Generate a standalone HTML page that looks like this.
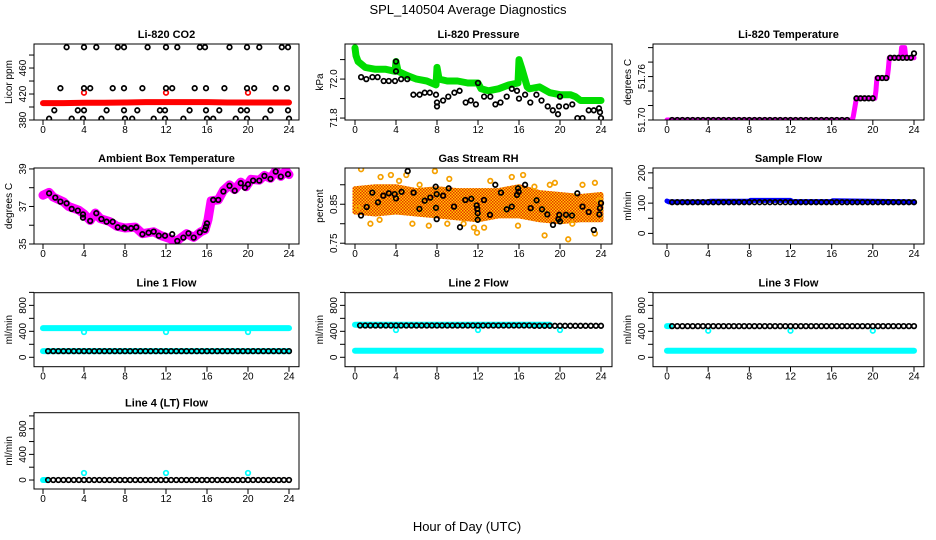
<!DOCTYPE html>
<html><head><meta charset="utf-8"><title>SPL_140504 Average Diagnostics</title>
<style>
html,body{margin:0;padding:0;background:#fff;}
svg{display:block;font-family:"Liberation Sans","DejaVu Sans",sans-serif;}
</style></head>
<body>
<svg id="chart" width="936" height="540" viewBox="0 0 936 540" xmlns="http://www.w3.org/2000/svg">
<defs>
<pattern id="rhpat" width="3" height="3" patternUnits="userSpaceOnUse">
<rect width="3" height="3" fill="#ffcc00"/><rect x="0" y="0" width="1.5" height="1.5" fill="#e83000"/><rect x="1.5" y="1.5" width="1.5" height="1.5" fill="#e83000"/>
</pattern>
</defs>
<rect width="936" height="540" fill="#fff"/>
<text x="468" y="14" text-anchor="middle" font-size="13">SPL_140504  Average Diagnostics</text>
<text x="467" y="531" text-anchor="middle" font-size="13">Hour of Day (UTC)</text>
</svg>
<script>
// ---------- DATA ----------
const xTicks = [0,4,8,12,16,20,24];

// CO2
const co2RedT = [0,2,4,6,8,10,12,14,16,18,20,22,24];
const co2RedV = [406,406,406.5,406.5,407,407.5,407.5,407.5,407.5,407,407,407,407];
const co2RedOutT = [4,12,20];
const co2RedOutV = [422,422,422];
const co2BlackT = [2.3,4.0,5.2,7.3,7.9,10.2,12.0,13.1,15.3,15.8,18.2,19.9,21.1,23.3,23.9,
  1.7,4.0,4.6,6.8,7.9,9.7,12.0,12.6,14.8,15.9,17.7,19.9,20.6,22.7,23.8,
  1.1,3.4,4.0,6.2,7.9,9.2,11.4,11.9,14.3,15.9,17.2,19.3,19.9,22.2,23.9,
  0.6,2.8,3.9,5.7,8.0,8.7,10.8,11.9,13.7,16.0,16.6,18.8,19.9,21.7,24.0];
const co2BlackV = [492,492,492,492,492,492,492,492,492,492,492,492,492,492,492,
  429,429,429,429,429,429,429,429,429,429,429,429,429,429,429,
  395,395,395,395,395,395,395,395,395,395,395,395,395,395,395,
  382,382,382,382,382,382,382,382,382,382,382,382,382,382,382];

// Pressure
const presGreenT = [0,0.1,0.3,1,2,3,3.9,4,4.2,5,6,7,7.9,8,8.2,9,10,11,12,12.3,13,14,15,15.9,16,16.3,16.8,17,18,19,20,21,21.5,22,23,24];
const presGreenV = [72.16,72.12,72.09,72.06,72.05,72.05,72.04,72.09,72.04,72.02,72.0,71.99,71.97,72.06,72.0,71.99,71.99,71.98,71.98,71.95,71.94,71.95,71.97,71.98,72.1,72.05,71.96,71.95,71.96,71.93,71.92,71.92,71.91,71.89,71.89,71.89];
const presBlackT = [0.6,1.1,1.7,2.2,2.8,3.3,3.9,4.0,4.0,4.5,5.1,5.7,6.3,6.8,7.3,7.9,8.0,8.0,8.6,9.1,9.7,10.2,10.8,11.3,11.8,12.0,12.6,13.2,13.7,14.2,14.8,15.3,15.8,16.0,16.6,17.1,17.7,18.2,18.8,19.3,19.8,19.9,20.0,20.6,21.2,21.7,22.2,22.8,23.3,23.8,23.9,24.0];
const presBlackV = [72.01,72.0,72.01,72.01,71.99,71.99,71.99,72.09,72.04,72.0,72.0,71.92,71.92,71.93,71.93,71.92,71.88,71.86,71.89,71.91,71.93,71.94,71.88,71.89,71.87,71.98,71.91,71.91,71.87,71.88,71.91,71.95,71.94,71.9,71.92,71.88,71.92,71.89,71.86,71.84,71.82,71.86,71.91,71.86,71.87,71.8,71.8,71.84,71.84,71.85,71.83,71.8];

// Li-820 temperature
const tempMagT = [0,18,18.1,18.4,20.2,20.3,20.4,21.4,21.5,21.6,22.7,22.8,23.1,23.2,24];
const tempMagV = [51.70,51.70,51.705,51.73,51.73,51.74,51.758,51.758,51.77,51.786,51.786,51.80,51.80,51.786,51.786];
const tempBlackT = [0.5,1,1.5,2,2.5,3,3.5,4,4.5,5,5.5,6,6.5,7,7.5,8,8.5,9,9.5,10,10.5,11,11.5,12,12.5,13,13.5,14,14.5,15,15.5,16,16.5,17,17.5,18.4,18.8,19.2,19.6,20,20.5,20.9,21.3,21.7,22.1,22.5,22.9,23.3,23.7,24];
const tempBlackV = [51.7,51.7,51.7,51.7,51.7,51.7,51.7,51.7,51.7,51.7,51.7,51.7,51.7,51.7,51.7,51.7,51.7,51.7,51.7,51.7,51.7,51.7,51.7,51.7,51.7,51.7,51.7,51.7,51.7,51.7,51.7,51.7,51.7,51.7,51.7,51.73,51.73,51.73,51.73,51.73,51.758,51.758,51.758,51.786,51.786,51.786,51.786,51.786,51.786,51.792];

// Ambient box temperature
const ambMagT = [0,0.6,1,2,2.5,3.5,4,4.6,5.1,5.6,6.5,7.2,8,9,9.7,10.8,11.5,12.3,13,14,14.7,15.4,15.8,16.1,16.4,17.1,17.6,18.2,18.7,19.3,19.8,20.3,21.1,21.6,22.2,22.7,23.2,23.7,24];
const ambMagV = [37.6,37.75,37.5,37.25,37.0,36.8,36.6,36.25,36.65,36.35,36.2,35.95,35.85,35.9,35.55,35.65,35.45,35.3,35.15,35.55,35.35,35.65,35.75,36.3,37.3,37.35,37.85,38.15,37.9,38.3,38.05,38.45,38.4,38.65,38.5,38.9,38.6,38.9,38.7];
const ambBlackT = [0.6,1.2,1.7,2.3,2.8,3.4,3.9,3.9,4.6,5.2,5.7,6.2,6.8,7.3,7.9,8.0,8.6,9.1,9.7,10.3,10.8,11.3,11.9,12.6,13.1,13.7,14.2,14.7,15.3,15.8,15.9,16.0,16.6,17.1,17.6,18.2,18.7,19.3,19.7,20.0,20.5,21.1,21.6,22.2,22.7,23.2,23.9];
const ambBlackV = [37.7,37.47,37.26,37.17,36.87,36.78,36.58,36.4,36.23,36.64,36.33,36.19,36.19,35.89,35.87,35.84,35.84,35.89,35.52,35.6,35.66,35.44,35.44,35.52,35.16,35.34,35.57,35.34,35.62,35.75,35.92,36.1,37.35,37.35,37.8,38.1,37.84,38.24,38.0,38.18,38.38,38.38,38.63,38.47,38.86,38.59,38.72];

// Gas stream RH
const rhBandT = [0,2,4,6,8,10,12,14,16,18,20,22,24];
const rhBandHi = [0.89,0.895,0.895,0.885,0.89,0.885,0.885,0.885,0.895,0.88,0.875,0.87,0.875];
const rhBandLo = [0.83,0.825,0.83,0.825,0.82,0.815,0.81,0.82,0.82,0.81,0.805,0.81,0.81];
const rhOrangeT = [0.6,2.5,3.5,5,7.8,9.2,15.3,16.4,1.5,2.4,5.6,7.2,9,10.6,11.6,11.9,15.9,18.5,19.5,20.8,23.4,23.4,22.2,13.2,17.5,19.0,21.2,6.3,4.3,12.6,0.3,23.8];
const rhOrangeV = [0.94,0.92,0.925,0.925,0.935,0.915,0.92,0.925,0.8,0.81,0.8,0.795,0.8,0.8,0.79,0.777,0.795,0.77,0.905,0.76,0.775,0.905,0.9,0.91,0.895,0.9,0.8,0.9,0.91,0.79,0.84,0.86];
const rhBlackT = [0.59,1.14,1.69,2.24,2.76,3.3,3.87,4.0,4.55,5.14,5.72,6.28,6.8,7.35,7.87,7.9,7.97,7.97,8.6,9.14,9.66,10.24,10.76,11.35,11.87,11.93,11.97,11.97,12.59,13.17,13.69,14.24,14.8,15.3,15.8,15.9,15.97,16.6,17.14,17.72,18.24,18.76,19.32,19.84,19.93,20.0,20.59,21.17,21.69,22.2,22.8,23.3,23.84,23.9,24.0];
const rhBlackV = [0.821,0.843,0.88,0.855,0.872,0.878,0.876,0.865,0.882,0.935,0.88,0.838,0.859,0.867,0.895,0.841,0.812,0.876,0.872,0.891,0.844,0.791,0.861,0.864,0.847,0.838,0.827,0.81,0.861,0.823,0.9,0.88,0.837,0.844,0.874,0.891,0.882,0.9,0.84,0.86,0.837,0.824,0.797,0.812,0.823,0.806,0.823,0.821,0.878,0.844,0.83,0.784,0.824,0.84,0.853];

// Sample flow
const sampBlueT = [0,0.2,4,4.2,8,8.1,12,12.2,16,16.1,24];
const sampBlueV = [107,104,104,106,106,109,109,105,105,108,104];

// Shared half-hour timestamps for flow black points
const flowT = [0.5,1,1.5,2,2.5,3,3.5,4,4.5,5,5.5,6,6.5,7,7.5,8,8.5,9,9.5,10,10.5,11,11.5,12,12.5,13,13.5,14,14.5,15,15.5,16,16.5,17,17.5,18,18.5,19,19.5,20,20.5,21,21.5,22,22.5,23,23.5,24];
const sampBlackV = [103,103,103,103,103,103,103,103,103,103,103,103,103,103,103,103,103,103,103,103,103,103,103,103,103,103,103,103,103,103,103,103,103,103,103,103,103,103,103,103,103,103,103,103,103,103,103,103];

// Line 1
const l1CyanHiT = [0,24]; const l1CyanHiV = [450,450];
const l1CyanLoT = [0,24]; const l1CyanLoV = [95,95];
const l1OutT = [4,12,20]; const l1OutV = [390,390,390];
const l1BlackV = [95,95,95,95,95,95,95,95,95,95,95,95,95,95,95,95,95,95,95,95,95,95,95,95,95,95,95,95,95,95,95,95,95,95,95,95,95,95,95,95,95,95,95,95,95,95,95,95];
// Line 2
const l2CyanHiT = [0,19]; const l2CyanHiV = [500,500];
const l2CyanLoT = [0,24]; const l2CyanLoV = [100,100];
const l2OutT = [4,12,20]; const l2OutV = [420,420,420];
const l2BlackV = [490,490,490,490,490,490,490,490,490,490,490,490,490,490,490,490,490,490,490,490,490,490,490,490,490,490,490,490,490,490,490,490,490,490,485,485,485,485,485,485,485,485,485,485,485,485,485,485];
// Line 3
const l3CyanHiT = [0,0.3]; const l3CyanHiV = [480,480];
const l3CyanLoT = [0,24]; const l3CyanLoV = [100,100];
const l3OutT = [4,12,20]; const l3OutV = [410,410,410];
const l3BlackV = [480,480,480,480,480,480,480,480,480,480,480,480,480,480,480,480,480,480,480,480,480,480,480,480,480,480,480,480,480,480,480,480,480,480,480,480,480,480,480,480,480,480,480,480,480,480,480,480];
// Line 4
const l4CyanT = [0,0.3]; const l4CyanV = [0,0];
const l4OutT = [4,12,20]; const l4OutV = [110,110,110];
const l4BlackV = [0,0,0,0,0,0,0,0,0,0,0,0,0,0,0,0,0,0,0,0,0,0,0,0,0,0,0,0,0,0,0,0,0,0,0,0,0,0,0,0,0,0,0,0,0,0,0,0];

// ---------- LAYOUT ----------
const NS = 'http://www.w3.org/2000/svg';
const svg = document.getElementById('chart');
const cols = [{l:34,r:299,x0:43,x24:289},{l:345,r:612,x0:355,x24:601},{l:653,r:924,x0:667,x24:914}];
const rows = [{t:44,b:120},{t:168,b:244},{t:292.7,b:366.7},{t:412.7,b:489}];

function mk(tag, parent){ const e = document.createElementNS(NS, tag); parent.appendChild(e); return e; }

function panel(p){
  const c = cols[p.col], r = rows[p.row];
  const g = mk('g', svg);
  
  
  const xs = t => c.x0 + (c.x24 - c.x0) * t / 24;
  const ys = v => r.b - (r.b - r.t) * (v - p.ydom[0]) / (p.ydom[1] - p.ydom[0]);

  const cid = 'clip-' + p.name;
  const cp = mk('clipPath', g); cp.setAttribute('id', cid);
  const cr = mk('rect', cp);
  cr.setAttribute('x', c.l); cr.setAttribute('y', r.t); cr.setAttribute('width', c.r - c.l); cr.setAttribute('height', r.b - r.t);
  const plot = mk('g', g);
  plot.setAttribute('clip-path', 'url(#' + cid + ')');
  
  

  p.series.forEach(s => {
    if (s.type === 'line') {
      const pl = mk('polyline', plot);
      
      
      pl.setAttribute('points', s.t.map((t,i) => xs(t).toFixed(1) + ',' + ys(s.v[i]).toFixed(1)).join(' '));
      pl.setAttribute('fill', 'none');
      pl.setAttribute('stroke', s.color);
      pl.setAttribute('stroke-width', s.w);
      pl.setAttribute('stroke-linejoin', 'round');
      pl.setAttribute('stroke-linecap', 'round');
    } else if (s.type === 'band') {
      const pts = s.t.map((t,i) => xs(t).toFixed(1) + ',' + ys(s.hi[i]).toFixed(1));
      for (let i = s.t.length - 1; i >= 0; i--) pts.push(xs(s.t[i]).toFixed(1) + ',' + ys(s.lo[i]).toFixed(1));
      const pg = mk('polygon', plot);
      
      
      pg.setAttribute('points', pts.join(' '));
      pg.setAttribute('fill', s.color);
      pg.setAttribute('stroke', s.color);
      pg.setAttribute('stroke-width', 5);
      pg.setAttribute('stroke-linejoin', 'round');
    } else {
      s.t.forEach((t,i) => {
        const ci = mk('circle', plot);
        
        
        ci.setAttribute('cx', xs(t).toFixed(1));
        ci.setAttribute('cy', ys(s.v[i]).toFixed(1));
        ci.setAttribute('r', s.r || 2.3);
        ci.setAttribute('fill', s.fill || 'none');
        ci.setAttribute('stroke', s.color);
        ci.setAttribute('stroke-width', s.sw || 1.7);
      });
    }
  });

  const bx = mk('rect', g);
  
  
  bx.setAttribute('x', c.l); bx.setAttribute('y', r.t); bx.setAttribute('width', c.r - c.l); bx.setAttribute('height', r.b - r.t);
  bx.setAttribute('fill', 'none'); bx.setAttribute('stroke', '#000'); bx.setAttribute('stroke-width', 1);

  xTicks.forEach(t => {
    const ln = mk('line', g);
    
    
    ln.setAttribute('x1', xs(t)); ln.setAttribute('x2', xs(t)); ln.setAttribute('y1', r.b); ln.setAttribute('y2', r.b + 5);
    ln.setAttribute('stroke', '#000');
    const tx = mk('text', g);
    
    
    tx.setAttribute('x', xs(t)); tx.setAttribute('y', r.b + 13);
    tx.setAttribute('text-anchor', 'middle'); tx.setAttribute('font-size', '10');
    tx.textContent = String(t);
  });
  p.yticks.forEach(v => {
    const ln = mk('line', g);
    
    
    ln.setAttribute('x1', c.l); ln.setAttribute('x2', c.l - 5); ln.setAttribute('y1', ys(v)); ln.setAttribute('y2', ys(v));
    ln.setAttribute('stroke', '#000');
  });
  p.ylabels.forEach((lab, i) => {
    const v = p.ylabelVals[i];
    const tx = mk('text', g);
    
    
    const x = c.l - 8, y = ys(v);
    tx.setAttribute('x', x); tx.setAttribute('y', y);
    tx.setAttribute('transform', 'rotate(-90 ' + x + ' ' + y + ')');
    tx.setAttribute('text-anchor', 'middle'); tx.setAttribute('font-size', '10');
    tx.textContent = lab;
  });
  const yl = mk('text', g);
  
  
  const lx = c.l - 22, ly = (r.t + r.b) / 2;
  yl.setAttribute('x', lx); yl.setAttribute('y', ly);
  yl.setAttribute('transform', 'rotate(-90 ' + lx + ' ' + ly + ')');
  yl.setAttribute('text-anchor', 'middle'); yl.setAttribute('font-size', '10');
  yl.textContent = p.ylab;
  const tt = mk('text', g);
  
  
  tt.setAttribute('x', (c.l + c.r) / 2); tt.setAttribute('y', r.t - 6);
  tt.setAttribute('text-anchor', 'middle'); tt.setAttribute('font-size', '11'); tt.setAttribute('font-weight', 'bold');
  tt.textContent = p.title;
}

const flowTicks = [0,200,400,600,800,1000];
const flowLabs = ['0','400','800'];
const flowLabVals = [0,400,800];

panel({name:'co2', col:0, row:0, title:'Li-820 CO2', ylab:'Licor ppm', ydom:[380,497],
  yticks:[380,400,420,440,460,480], ylabels:['380','420','460'], ylabelVals:[380,420,460],
  series:[
    {type:'line', name:'co2-red-series', t:co2RedT, v:co2RedV, color:'#ff0000', w:6},
    {type:'pts', name:'co2-red-outlier', t:co2RedOutT, v:co2RedOutV, color:'#ff0000'},
    {type:'pts', name:'co2-black-point', t:co2BlackT, v:co2BlackV, color:'#000'}
  ]});
panel({name:'pressure', col:1, row:0, title:'Li-820 Pressure', ylab:'kPa', ydom:[71.79,72.18],
  yticks:[71.8,71.9,72.0,72.1], ylabels:['71.8','72.0'], ylabelVals:[71.8,72.0],
  series:[
    {type:'line', name:'pressure-green-series', t:presGreenT, v:presGreenV, color:'#00dd00', w:7},
    {type:'pts', name:'pressure-black-point', t:presBlackT, v:presBlackV, color:'#000'}
  ]});
panel({name:'li820-temp', col:2, row:0, title:'Li-820 Temperature', ylab:'degrees C', ydom:[51.70,51.805],
  yticks:[51.70,51.72,51.74,51.76,51.78,51.80], ylabels:['51.70','51.76'], ylabelVals:[51.70,51.76],
  series:[
    {type:'line', name:'li820-temp-magenta-series', t:tempMagT, v:tempMagV, color:'#ff00ff', w:5},
    {type:'pts', name:'li820-temp-black-point', t:tempBlackT, v:tempBlackV, color:'#000'}
  ]});
panel({name:'ambient-temp', col:0, row:1, title:'Ambient Box Temperature', ylab:'degrees C', ydom:[35,39.05],
  yticks:[35,36,37,38,39], ylabels:['35','37','39'], ylabelVals:[35,37,39],
  series:[
    {type:'line', name:'ambient-temp-magenta-series', t:ambMagT, v:ambMagV, color:'#ff00ff', w:9},
    {type:'pts', name:'ambient-temp-black-point', t:ambBlackT, v:ambBlackV, color:'#000'}
  ]});
panel({name:'gas-rh', col:1, row:1, title:'Gas Stream RH', ylab:'percent', ydom:[0.748,0.943],
  yticks:[0.75,0.80,0.85,0.90], ylabels:['0.75','0.85'], ylabelVals:[0.75,0.85],
  series:[
    {type:'band', name:'gas-rh-orange-band', t:rhBandT, hi:rhBandHi, lo:rhBandLo, color:'url(#rhpat)'},
    {type:'pts', name:'gas-rh-orange-point', t:rhOrangeT, v:rhOrangeV, color:'#f5a000'},
    {type:'pts', name:'gas-rh-black-point', t:rhBlackT, v:rhBlackV, color:'#000'}
  ]});
panel({name:'sample-flow', col:2, row:1, title:'Sample Flow', ylab:'ml/min', ydom:[-35,216],
  yticks:[0,50,100,150,200], ylabels:['0','100','200'], ylabelVals:[0,100,200],
  series:[
    {type:'line', name:'sample-flow-blue-series', t:sampBlueT, v:sampBlueV, color:'#0000ff', w:5},
    {type:'pts', name:'sample-flow-black-point', t:flowT, v:sampBlackV, color:'#000'}
  ]});
panel({name:'line1-flow', col:0, row:2, title:'Line 1 Flow', ylab:'ml/min', ydom:[-145,995],
  yticks:flowTicks, ylabels:flowLabs, ylabelVals:flowLabVals,
  series:[
    {type:'line', name:'line1-cyan-high', t:l1CyanHiT, v:l1CyanHiV, color:'#00ffff', w:6},
    {type:'line', name:'line1-cyan-low', t:l1CyanLoT, v:l1CyanLoV, color:'#00ffff', w:6},
    {type:'pts', name:'line1-cyan-outlier', t:l1OutT, v:l1OutV, color:'#00ffff'},
    {type:'pts', name:'line1-black-point', t:flowT, v:l1BlackV, color:'#000'}
  ]});
panel({name:'line2-flow', col:1, row:2, title:'Line 2 Flow', ylab:'ml/min', ydom:[-145,995],
  yticks:flowTicks, ylabels:flowLabs, ylabelVals:flowLabVals,
  series:[
    {type:'line', name:'line2-cyan-high', t:l2CyanHiT, v:l2CyanHiV, color:'#00ffff', w:6},
    {type:'line', name:'line2-cyan-low', t:l2CyanLoT, v:l2CyanLoV, color:'#00ffff', w:6},
    {type:'pts', name:'line2-cyan-outlier', t:l2OutT, v:l2OutV, color:'#00ffff'},
    {type:'pts', name:'line2-black-point', t:flowT, v:l2BlackV, color:'#000'}
  ]});
panel({name:'line3-flow', col:2, row:2, title:'Line 3 Flow', ylab:'ml/min', ydom:[-145,995],
  yticks:flowTicks, ylabels:flowLabs, ylabelVals:flowLabVals,
  series:[
    {type:'line', name:'line3-cyan-high', t:l3CyanHiT, v:l3CyanHiV, color:'#00ffff', w:6},
    {type:'line', name:'line3-cyan-low', t:l3CyanLoT, v:l3CyanLoV, color:'#00ffff', w:6},
    {type:'pts', name:'line3-cyan-outlier', t:l3OutT, v:l3OutV, color:'#00ffff'},
    {type:'pts', name:'line3-black-point', t:flowT, v:l3BlackV, color:'#000'}
  ]});
panel({name:'line4-flow', col:0, row:3, title:'Line 4 (LT) Flow', ylab:'ml/min', ydom:[-140,1050],
  yticks:flowTicks, ylabels:flowLabs, ylabelVals:flowLabVals,
  series:[
    {type:'line', name:'line4-cyan-series', t:l4CyanT, v:l4CyanV, color:'#00ffff', w:6},
    {type:'pts', name:'line4-cyan-outlier', t:l4OutT, v:l4OutV, color:'#00ffff'},
    {type:'pts', name:'line4-black-point', t:flowT, v:l4BlackV, color:'#000'}
  ]});
</script>
</body></html>
